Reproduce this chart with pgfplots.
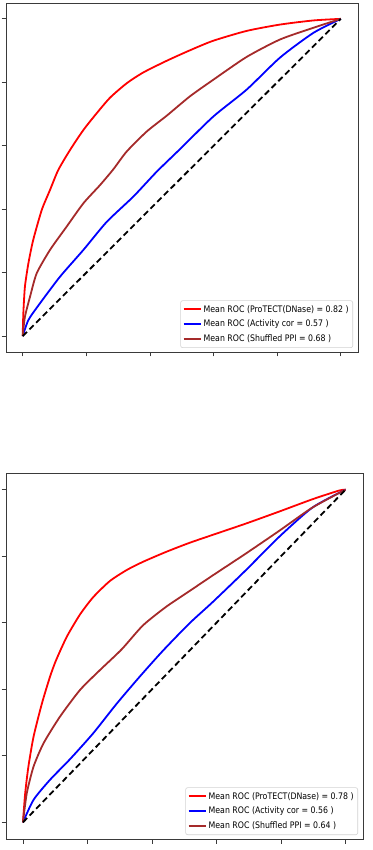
\documentclass[border=0pt]{standalone}
\usepackage{fontspec}
\setmainfont{DejaVu Sans}
\newfontfamily\legfont[FakeStretch=0.87]{DejaVu Sans}
\usepackage{pgfplots}
\pgfplotsset{compat=1.18}
\definecolor{mplbrown}{HTML}{A52A2A}
\definecolor{framegray}{HTML}{3A3A3A}
\pgfplotsset{
  rocaxis/.style={
    scale only axis,
    xmin=-0.0525, xmax=1.054, ymin=-0.05, ymax=1.05,
    xtick={0,0.2,0.4,0.6,0.8,1.0}, ytick={0,0.2,0.4,0.6,0.8,1.0},
    xticklabels={}, yticklabels={},
    xtick pos=bottom, ytick pos=left,
    tick align=outside, major tick length=4.5pt,
    tick style={framegray, line width=0.8pt},
    axis line style={framegray, line width=0.8pt},
    legend cell align=left,
    legend style={at={(1,0)}, xshift=-5pt, yshift=4pt, anchor=south east,
      draw=gray!35, rounded corners=2pt, line width=0.6pt,
      font=\legfont\fontsize{9}{11}\selectfont, inner xsep=2pt, inner ysep=2.5pt,
      row sep=2.5pt},
    legend image code/.code={\draw[#1, line width=2pt] (0pt,0pt) -- (17pt,0pt);},
  },
  redl/.style={red, line width=1.8pt, smooth, tension=0.4},
  bluel/.style={blue, line width=1.8pt, smooth, tension=0.4},
  brownl/.style={mplbrown, line width=1.8pt, smooth, tension=0.4},
  diagl/.style={black, line width=1.8pt, dash pattern=on 6pt off 3.5pt, forget plot},
}
\begin{document}
\begin{tikzpicture}[x=1pt,y=1pt]
\useasboundingbox (0,0) rectangle (372,850);
\begin{axis}[rocaxis, at={(6pt,498pt)}, anchor=south west, width=352pt, height=349pt]
\addplot[redl] coordinates {(0,0) (0.002,0.072) (0.007,0.156) (0.018,0.230) (0.033,0.303) (0.060,0.398) (0.086,0.461) (0.112,0.524) (0.149,0.587) (0.191,0.650) (0.233,0.703) (0.275,0.752) (0.327,0.797) (0.379,0.831) (0.453,0.868) (0.526,0.901) (0.599,0.931) (0.704,0.962) (0.809,0.982) (0.914,0.995) (1,1)};
\addlegendentry{Mean ROC (ProTECT(DNase) = 0.82 )}
\addplot[bluel] coordinates {(0,0) (0.018,0.051) (0.054,0.103) (0.117,0.187) (0.191,0.272) (0.264,0.360) (0.348,0.440) (0.421,0.518) (0.495,0.590) (0.599,0.692) (0.704,0.777) (0.809,0.878) (0.914,0.956) (1,1)};
\addlegendentry{Mean ROC (Activity cor = 0.57 )}
\addplot[brownl] coordinates {(0,0) (0.007,0.061) (0.023,0.124) (0.044,0.198) (0.086,0.272) (0.138,0.345) (0.191,0.419) (0.243,0.476) (0.285,0.526) (0.327,0.582) (0.390,0.645) (0.453,0.695) (0.526,0.756) (0.599,0.808) (0.704,0.880) (0.809,0.935) (0.914,0.972) (1,1)};
\addlegendentry{Mean ROC (Shuffled PPI = 0.68 )}
\addplot[diagl] coordinates {(0,0) (1,1)};
\end{axis}
\begin{axis}[rocaxis, at={(6pt,11pt)}, anchor=south west, width=357pt, height=366pt]
\addplot[redl] coordinates {(0,0) (0.007,0.088) (0.017,0.168) (0.033,0.258) (0.059,0.358) (0.084,0.438) (0.103,0.488) (0.136,0.558) (0.177,0.625) (0.218,0.677) (0.269,0.725) (0.321,0.758) (0.372,0.783) (0.444,0.813) (0.516,0.840) (0.588,0.864) (0.691,0.898) (0.794,0.934) (0.897,0.971) (0.979,0.997) (1,1)};
\addlegendentry{Mean ROC (ProTECT(DNase) = 0.78 )}
\addplot[bluel] coordinates {(0,0) (0.033,0.068) (0.084,0.128) (0.146,0.190) (0.218,0.268) (0.290,0.356) (0.362,0.438) (0.434,0.516) (0.516,0.598) (0.588,0.662) (0.691,0.758) (0.794,0.858) (0.897,0.946) (1,1)};
\addlegendentry{Mean ROC (Activity cor = 0.56 )}
\addplot[brownl] coordinates {(0,0) (0.012,0.088) (0.033,0.168) (0.064,0.238) (0.115,0.318) (0.177,0.398) (0.239,0.458) (0.306,0.520) (0.372,0.592) (0.444,0.648) (0.516,0.695) (0.588,0.742) (0.691,0.808) (0.794,0.876) (0.897,0.946) (1,1)};
\addlegendentry{Mean ROC (Shuffled PPI = 0.64 )}
\addplot[diagl] coordinates {(0,0) (1,1)};
\end{axis}
\end{tikzpicture}
\end{document}
